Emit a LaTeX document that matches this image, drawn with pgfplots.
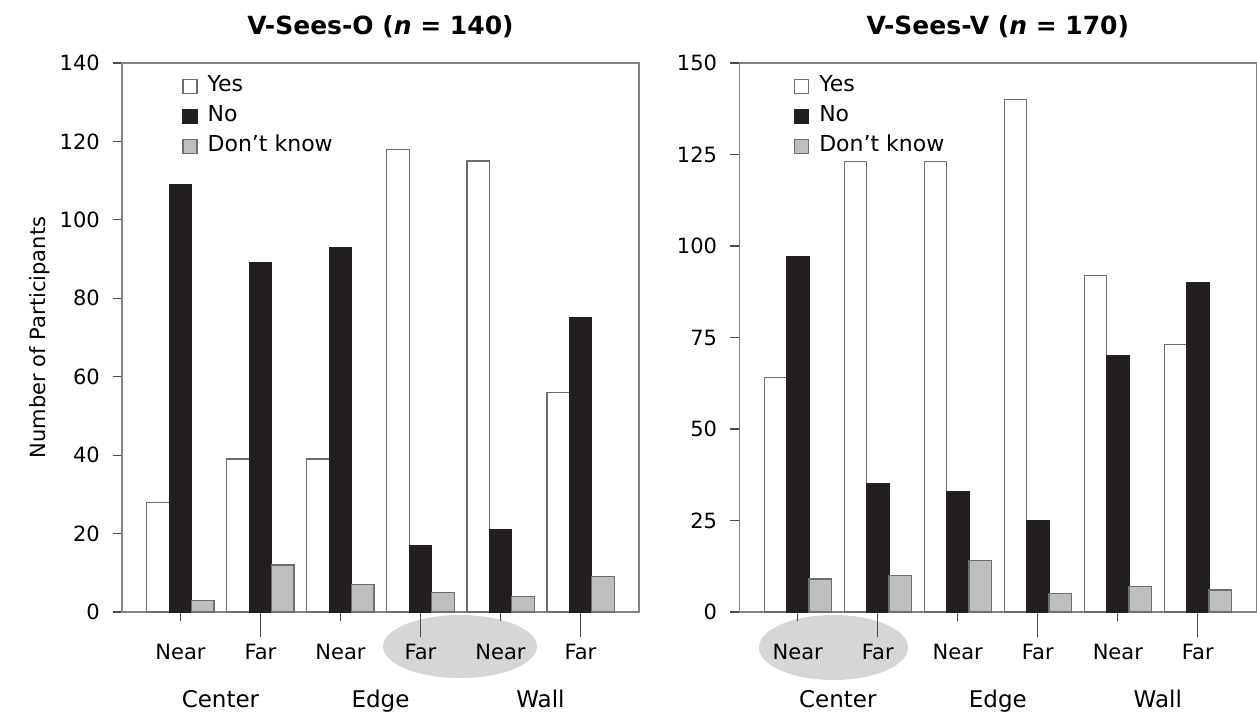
\documentclass[border=0pt]{standalone}
\usepackage{fontspec}
\setmainfont{DejaVu Sans}
\usepackage{pgfplots}
\usepackage{pgfplotstable}
\pgfplotsset{compat=1.18}

\definecolor{nocol}{HTML}{231F20}
\definecolor{dkcol}{HTML}{BCBEC0}
\definecolor{barline}{HTML}{6D6E70}
\definecolor{axcol}{HTML}{808285}
\definecolor{ellcol}{HTML}{D5D6D7}

% x: 0..5 = Center Near/Far, Edge Near/Far, Wall Near/Far
\pgfplotstableread{
x yes no dk
0 28 109 3
1 39 89 12
2 39 93 7
3 118 17 5
4 115 21 4
5 56 75 9
}\seesO

\pgfplotstableread{
x yes no dk
0 64 97 9
1 123 35 10
2 123 33 14
3 140 25 5
4 92 70 7
5 73 90 6
}\seesV

\tikzset{grp/.style={anchor=base, font=\fontsize{11.5}{13}\selectfont}}

\pgfplotsset{
  panel/.style={
    scale only axis, width=258.5pt, height=274.5pt,
    anchor=south west,
    ybar, bar width=0.28,
    xmin=-0.731, xmax=5.731, ymin=0,
    axis line style={axcol, line width=0.75pt},
    tick style={black!70, line width=0.6pt},
    tick align=outside, tick pos=left,
    major tick length=4.6pt,
    xtick={0,2,4}, xticklabels={Near,Near,Near},
    extra x ticks={1,3,5}, extra x tick labels={Far,Far,Far},
    extra x tick style={major tick length=12.5pt,
      xticklabel style={yshift=7.9pt}},
    ticklabel style={font=\fontsize{10.5}{12}\selectfont},
    xticklabel style={yshift=-8pt},
    yticklabel style={xshift=-3pt},
    /pgf/number format/assume math mode=true,
    title style={font=\bfseries\fontsize{12.5}{14}\selectfont,
      at={(0.5,1)}, anchor=center, yshift=12pt},
    legend cell align=left,
    legend style={draw=none, fill=none, anchor=north west,
      font=\fontsize{11}{13}\selectfont, row sep=3pt,
      nodes={inner sep=1pt, text height=0.75em, text depth=0.25em}},
    legend image code/.code={%
      \draw[#1, line width=0.6pt] (0pt,-3.5pt) rectangle (7pt,3.5pt);
      \path (11pt,0pt);},
    clip=false,
  },
  yes/.style={fill=white, draw=barline, line width=0.6pt, bar shift=-0.28},
  no/.style={fill=nocol, draw=nocol, line width=0.6pt, bar shift=0},
  dk/.style={fill=dkcol, draw=barline, line width=0.6pt, bar shift=0.28},
}

\begin{document}
\begin{tikzpicture}
\path[use as bounding box] (-61pt,-50.5pt) rectangle (567.5pt,306pt);
% highlight ellipses behind the tick labels
\fill[ellcol] (169pt,-17.25pt) ellipse [x radius=38.5pt, y radius=15.75pt];
\fill[ellcol] (355.75pt,-17.75pt) ellipse [x radius=37.25pt, y radius=16.25pt];

\begin{axis}[panel, at={(0pt,0pt)},
  ymax=140, ytick={0,20,...,140},
  title={V-Sees-O (\textit{n} = 140)},
  ylabel={Number of Participants},
  ylabel style={at={(rel axis cs:0,0.5)}, yshift=41pt, anchor=center,
    font=\fontsize{10.5}{12}\selectfont},
  legend style={at={(0.1045,1)}, yshift=-3.5pt},
]
\addplot[yes] table[x=x, y=yes] {\seesO};
\addplot[no] table[x=x, y=no] {\seesO};
\addplot[dk] table[x=x, y=dk] {\seesO};
\legend{Yes, No, Don’t know}
\node[grp] at (axis cs:0.5,0) [yshift=-47.7pt] {Center};
\node[grp] at (axis cs:2.5,0) [yshift=-47.7pt] {Edge};
\node[grp] at (axis cs:4.5,0) [yshift=-47.7pt] {Wall};
\end{axis}

\begin{axis}[panel, at={(308.65pt,0pt)},
  ymax=150, ytick={0,25,...,150},
  title={V-Sees-V (\textit{n} = 170)},
  legend style={at={(0.0935,1)}, yshift=-3.5pt},
]
\addplot[yes] table[x=x, y=yes] {\seesV};
\addplot[no] table[x=x, y=no] {\seesV};
\addplot[dk] table[x=x, y=dk] {\seesV};
\legend{Yes, No, Don’t know}
\node[grp] at (axis cs:0.5,0) [yshift=-47.7pt] {Center};
\node[grp] at (axis cs:2.5,0) [yshift=-47.7pt] {Edge};
\node[grp] at (axis cs:4.5,0) [yshift=-47.7pt] {Wall};
\end{axis}
\end{tikzpicture}
\end{document}
